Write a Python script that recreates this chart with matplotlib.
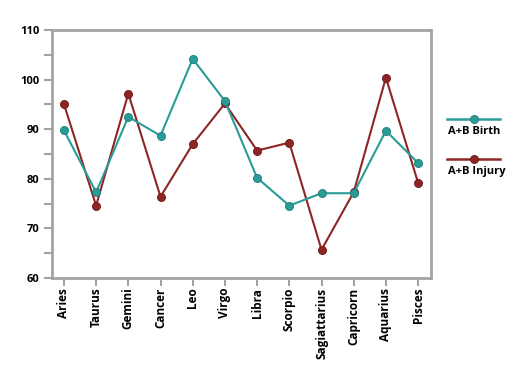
import matplotlib
matplotlib.use('Agg')
import matplotlib.pyplot as plt
from matplotlib.lines import Line2D
from matplotlib.ticker import MultipleLocator

signs = ['Aries', 'Taurus', 'Gemini', 'Cancer', 'Leo', 'Virgo', 'Libra',
         'Scorpio', 'Sagiattarius', 'Capricorn', 'Aquarius', 'Pisces']
birth = [89.8, 77.3, 92.5, 88.7, 104.2, 95.7, 80.2, 74.6, 77.1, 77.1, 89.7, 83.2]
injury = [95.1, 74.6, 97.2, 76.4, 87.0, 95.2, 85.7, 87.3, 65.7, 77.3, 100.4, 79.2]

teal = '#2a9c98'
red = '#8e2525'
grey = '#a3a3a3'

plt.rcParams['font.family'] = ['Open Sans', 'DejaVu Sans']
fig = plt.figure(figsize=(5.19, 3.76), dpi=100)
ax = fig.add_axes([0.1002, 0.2606, 0.7302, 0.6594])

x = list(range(len(signs)))
ax.plot(x, injury, color=red, lw=1.5, marker='o', ms=5.8,
        markerfacecolor=red, markeredgecolor='#6e1515', mew=0.6, zorder=3)
ax.plot(x, birth, color=teal, lw=1.5, marker='o', ms=5.8,
        markerfacecolor=teal, markeredgecolor='#1d7a77', mew=0.6, zorder=4)

ax.set_xlim(-0.37, 11.4)
ax.set_ylim(60, 110)
ax.set_xticks(x)
ax.set_xticklabels(signs, rotation=90, fontsize=8.5, fontweight='bold')
ax.yaxis.set_major_locator(MultipleLocator(10))
ax.yaxis.set_minor_locator(MultipleLocator(5))
for lab in ax.get_yticklabels():
    lab.set_fontsize(8)
    lab.set_fontweight('bold')

for s in ax.spines.values():
    s.set_color(grey)
    s.set_linewidth(2)
ax.tick_params(axis='both', which='both', color=grey, width=1.5, direction='out')
ax.tick_params(axis='y', which='major', length=6, pad=3)
ax.tick_params(axis='y', which='minor', length=6)
ax.tick_params(axis='x', length=6, pad=1)

# legend drawn in figure coordinates
W, H = 519, 376
for ypix, col, ecol, label in [(119, teal, '#1d7a77', 'A+B Birth'),
                               (159, red, '#6e1515', 'A+B Injury')]:
    fig.add_artist(Line2D([447 / W, 500 / W], [1 - ypix / H] * 2,
                          color=col, lw=1.8, transform=fig.transFigure))
    fig.add_artist(Line2D([474 / W], [1 - ypix / H], marker='o', ms=5.8,
                          color=col, markeredgecolor=ecol, mew=0.6,
                          transform=fig.transFigure))
    fig.text(448 / W, 1 - (ypix + 13) / H, label, fontsize=8,
             fontweight='bold', va='center', ha='left')

fig.savefig('out.png', dpi=100)
